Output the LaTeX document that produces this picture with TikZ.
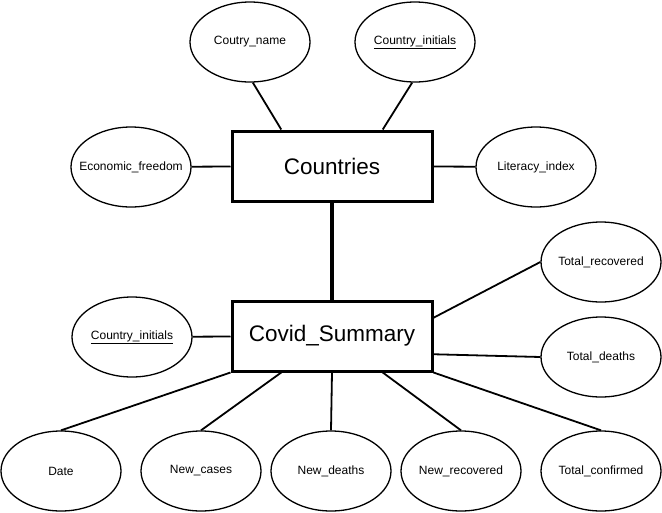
\documentclass[tikz,border=0pt]{standalone}
\usepackage{fontspec}
\setmainfont{Liberation Sans}
\usetikzlibrary{shapes,calc,positioning}

\tikzset{
  attr/.style={ellipse, draw, line width=1.3pt, minimum width=120pt, minimum height=80pt, inner xsep=-20pt, inner ysep=0pt, font=\fontsize{12}{14}\selectfont},
  entity/.style={rectangle, draw, line width=3pt, minimum width=200pt, minimum height=70pt, font=\fontsize{22.5}{27}\selectfont},
  link/.style={line width=1.8pt},
}

\begin{document}
\begin{tikzpicture}[x=1pt, y=-1pt]
    \useasboundingbox (0,0) rectangle (662,512);
    % Entities
    \node[entity] (countries) at (332,166) {Countries};
    \node[entity] (covid) at (332,336) {Covid\_Summary};
    \draw[line width=3.5pt] (countries) -- (covid);

    % Countries attributes
    \node[attr] (cname) at (250,42) {Coutry\_name};
    \node[attr] (cinit) at (415,42) {\underline{Country\_initials}};
    \node[attr] (econ) at (131,167) {Economic\_freedom};
    \node[attr] (liter) at (536,167) {Literacy\_index};
    \draw[link] (cname.-86) -- ($(countries.north west)!0.25!(countries.north east)$);
    \draw[link] (cinit.-94) -- ($(countries.north west)!0.75!(countries.north east)$);
    \draw[link] (econ) -- (countries);
    \draw[link] (liter) -- (countries);

    % Covid_Summary attributes
    \node[attr] (cinit2) at (132,337) {\underline{Country\_initials}};
    \node[attr] (trec) at (601,262) {Total\_recovered};
    \node[attr] (tdeath) at (601,357) {Total\_deaths};
    \node[attr] (date) at (61,471) {Date};
    \node[attr] (ncases) at (201,471) {New\_cases};
    \node[attr] (ndeaths) at (331,471) {New\_deaths};
    \node[attr] (nrec) at (461,471) {New\_recovered};
    \node[attr] (tconf) at (601,471) {Total\_confirmed};
    \draw[link] (cinit2) -- (covid);
    \draw[link] ($(covid.north east)!0.25!(covid.south east)$) -- (trec.west);
    \draw[link] ($(covid.north east)!0.75!(covid.south east)$) -- (tdeath.west);
    \draw[link] (covid.south west) -- (date.north);
    \draw[link] ($(covid.south west)!0.25!(covid.south east)$) -- (ncases.north);
    \draw[link] (covid.south) -- (ndeaths.north);
    \draw[link] ($(covid.south west)!0.75!(covid.south east)$) -- (nrec.north);
    \draw[link] (covid.south east) -- (tconf.north);
\end{tikzpicture}
\end{document}
